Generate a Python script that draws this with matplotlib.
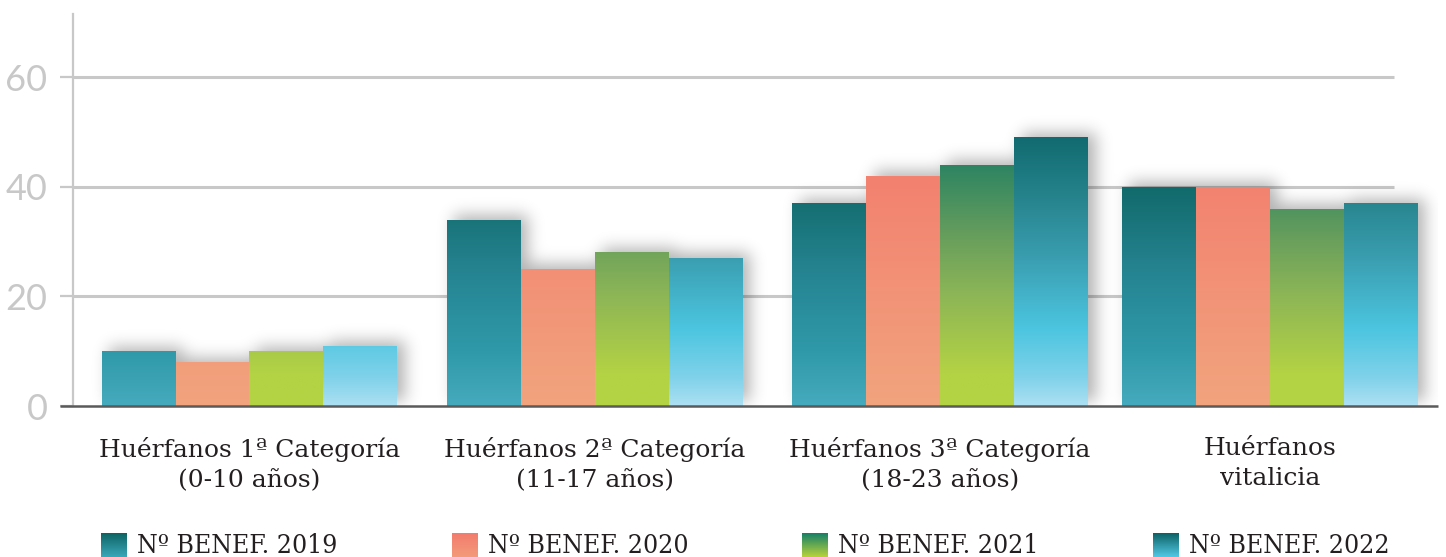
import numpy as np
import matplotlib as mpl
mpl.use('Agg')
from matplotlib import pyplot as plt
from matplotlib.colors import LinearSegmentedColormap, Normalize

# data
categories = ['Huérfanos 1ª Categoría\n(0-10 años)',
              'Huérfanos 2ª Categoría\n(11-17 años)',
              'Huérfanos 3ª Categoría\n(18-23 años)',
              'Huérfanos\nvitalicia']
series = ['Nº BENEF. 2019', 'Nº BENEF. 2020', 'Nº BENEF. 2021', 'Nº BENEF. 2022']
v2019 = [10, 34, 37, 40]
v2020 = [8, 25, 42, 40]
v2021 = [10, 28, 44, 36]
v2022 = [11, 27, 49, 37]
values = [v2019, v2020, v2021, v2022]
yticks = [0, 20, 40, 60]

# gradients, positioned on the value axis (value, colour)
grad = [
    [(0, '#45aabd'), (10, '#2f99a9'), (25, '#258390'), (40, '#116a6b')],
    [(0, '#f1a47e'), (42, '#f3816f')],
    [(0, '#b5d444'), (6, '#b3d244'), (20, '#8db656'), (30, '#6ba05c'), (44, '#2d8462')],
    [(0, '#ace0f2'), (5, '#80d2ea'), (14, '#4cc5e0'), (27, '#3a9eb0'), (37, '#288690'), (49, '#116b70')],
]
leg_grad = [('#3aa7b9', '#0e6464'), ('#f29b7a', '#f37c6e'),
            ('#b8d23c', '#178066'), ('#52c8e4', '#0d6366')]

W, H = 1446, 557
fig = plt.figure(figsize=(W/100, H/100), dpi=100)
ax = fig.add_axes([73/W, 151/H, 1365/W, 392/H])
ax.patch.set_alpha(0)

grey = '#c8c8c8'
group_pos = np.array([0, 1, 2, 2.955])
bw = 0.2143
xlim = ((73-249.5)/345.3, (1438-249.5)/345.3)
ylim = (0, 71.5)

# grid and zero line
for y in yticks[1:]:
    ax.plot([0, 0.968], [y, y], color=grey, lw=2.2, transform=ax.get_yaxis_transform(),
            zorder=1, solid_capstyle='butt')
ax.plot([-0.0095, 1], [0, 0], color='#5a5a5a', lw=1.8, transform=ax.get_yaxis_transform(),
        clip_on=False, zorder=6, solid_capstyle='butt')

bars_all = []
for i, vals in enumerate(values):
    bars = ax.bar(group_pos + (i-1.5)*bw, vals, width=bw, color='none', lw=0, zorder=3)
    stops = grad[i]
    vmax = stops[-1][0]
    cmap = LinearSegmentedColormap.from_list('g%d' % i, [(s/vmax, c) for s, c in stops])
    for p in bars.patches:
        x0, h = p.get_x(), p.get_height()
        g = np.linspace(0, h, 200).reshape(-1, 1)
        im = ax.imshow(g, cmap=cmap, norm=Normalize(0, vmax), origin='lower', aspect='auto',
                       extent=(x0, x0 + p.get_width(), 0, h), zorder=3, interpolation='bilinear')
        im.set_clip_path(p)
        bars_all.append(p)

ax.set_xlim(*xlim)
ax.set_ylim(*ylim)

# soft drop shadow behind the bars
bb = ax.get_window_extent()
aw, ah = int(round(bb.width)), int(round(bb.height))
mask = np.zeros((ah, aw))
dx, dy = 8, 5
for p in bars_all:
    (px0, py0), (px1, py1) = ax.transData.transform([(p.get_x(), 0),
                                                      (p.get_x()+p.get_width(), p.get_height())])
    px0, px1 = px0 - bb.x0 + dx, px1 - bb.x0 + dx
    py0, py1 = py0 - bb.y0 + dy, py1 - bb.y0 + dy
    mask[max(int(py0), 0):min(int(py1), ah), max(int(px0), 0):min(int(px1), aw)] = 1
sig = 8
k = np.exp(-0.5*(np.arange(-3*sig, 3*sig+1)/sig)**2)
k /= k.sum()
mask = np.apply_along_axis(lambda r: np.convolve(r, k, mode='same'), 1, mask)
mask = np.apply_along_axis(lambda c: np.convolve(c, k, mode='same'), 0, mask)
shadow = np.zeros((ah, aw, 4))
shadow[..., 3] = 0.3*mask
ax.imshow(shadow, extent=(xlim[0], xlim[1], ylim[0], ylim[1]), origin='lower', aspect='auto',
          zorder=2, interpolation='nearest')
ax.set_xlim(*xlim)
ax.set_ylim(*ylim)

# axes styling
for s in ['top', 'right', 'bottom']:
    ax.spines[s].set_visible(False)
ax.spines['left'].set_color(grey)
ax.spines['left'].set_linewidth(1.6)
ax.set_yticks(yticks)
ax.set_yticklabels([str(t) for t in yticks], family=['Lato', 'DejaVu Sans'],
                   fontsize=26, color=grey)
ax.tick_params(axis='y', length=9.4, width=1.6, color=grey, pad=9)
ax.set_xticks(group_pos)
ax.set_xticklabels(categories, family='DejaVu Serif', fontsize=18, color='#231f20',
                   linespacing=1.4)
ax.tick_params(axis='x', length=0, pad=22)

# legend along the bottom edge
for i, name in enumerate(series):
    lx = 101 + 350.7*i
    lax = fig.add_axes([lx/W, 0, 26/W, 24/H])
    lc = LinearSegmentedColormap.from_list('l%d' % i, leg_grad[i])
    lax.imshow(np.linspace(0, 1, 50).reshape(-1, 1), cmap=lc, origin='lower', aspect='auto')
    lax.axis('off')
    fig.text((lx + 36)/W, 4/H, name, family='DejaVu Serif', fontstretch='condensed',
             fontsize=19, color='#231f20', va='baseline', ha='left')

fig.savefig('out.png', dpi=100)
